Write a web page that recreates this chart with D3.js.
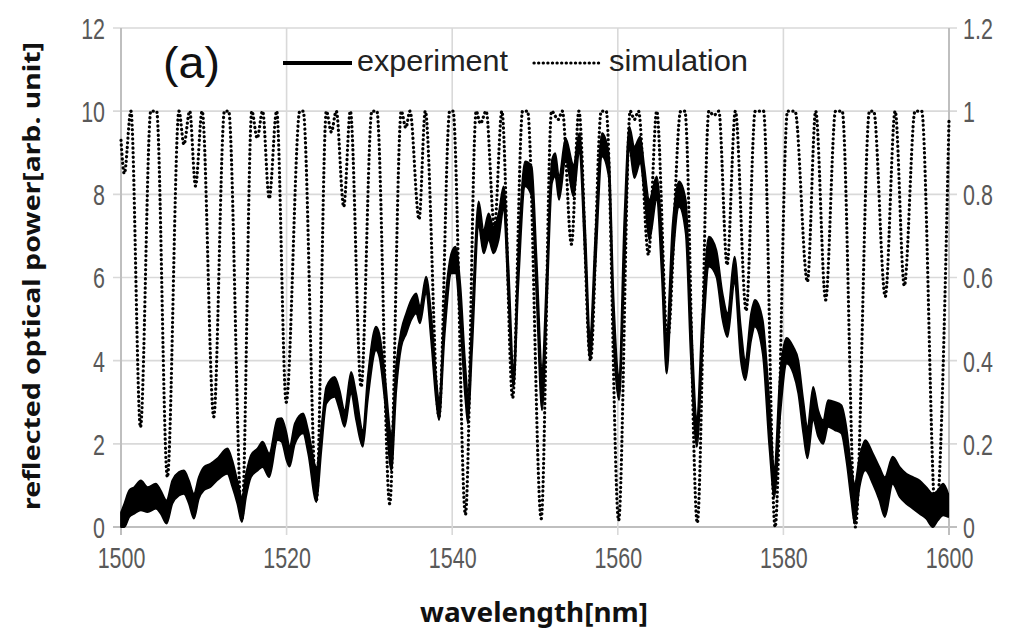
<!DOCTYPE html>
<html><head><meta charset="utf-8">
<script src="https://cdn.jsdelivr.net/npm/d3@7"></script>
<style>
html,body{margin:0;padding:0;background:#fff;}
svg{display:block;}
</style></head>
<body>
<svg id="chart" width="1024" height="635"></svg>
<script>
// ---- data ----
const xTicks = [1500, 1520, 1540, 1560, 1580, 1600];
const yLeftTicks = [0, 2, 4, 6, 8, 10, 12];
const yRightTicks = [0, 0.2, 0.4, 0.6, 0.8, 1, 1.2];
const yRightLabels = ["0", "0.2", "0.4", "0.6", "0.8", "1", "1.2"];
const seriesNames = ["experiment", "simulation"];

// experiment: noisy band, read as upper / lower envelope (left axis)
const expWl = [1500.0,1500.4,1501.0,1501.6,1502.4,1503.2,1504.2,1504.8,1505.5,1506.2,1507.0,1507.6,1508.2,1508.8,1509.4,1510.0,1510.8,1511.6,1512.85,1513.45,1514.05,1514.6,1515.1,1515.7,1516.5,1517.1,1517.9,1518.9,1519.4,1520.0,1520.35,1521.0,1522.0,1522.6,1523.6,1524.2,1524.8,1525.8,1526.4,1527.0,1527.8,1528.4,1529.2,1529.8,1530.8,1531.2,1531.85,1532.65,1533.25,1533.85,1534.45,1535.05,1535.65,1536.1,1536.85,1537.45,1538.05,1538.4,1539.1,1539.9,1540.4,1541.0,1541.6,1541.9,1542.4,1543.2,1543.8,1544.4,1545.0,1545.6,1546.2,1546.8,1547.4,1548.0,1548.8,1549.6,1550.2,1550.85,1551.45,1552.05,1552.45,1552.9,1553.7,1554.65,1555.35,1556.05,1556.65,1557.3,1558.1,1558.9,1559.5,1560.15,1560.8,1561.4,1562.0,1562.7,1563.2,1563.8,1564.7,1565.3,1565.9,1566.6,1567.4,1568.2,1568.8,1569.55,1570.2,1571.0,1571.9,1572.65,1573.25,1574.1,1574.85,1575.4,1576.1,1576.55,1577.5,1578.3,1578.9,1579.6,1580.4,1581.2,1581.8,1582.4,1582.9,1583.6,1584.2,1584.8,1585.4,1586.2,1587.0,1587.6,1588.2,1588.6,1589.2,1589.9,1590.8,1591.6,1592.25,1593.2,1594.05,1594.85,1595.65,1596.45,1597.25,1598.05,1598.65,1599.3,1599.9];
const expUpper = [0.35,0.56,0.88,0.96,1.12,0.96,1.04,0.88,0.64,1.12,1.32,1.36,1.12,0.80,1.20,1.44,1.52,1.64,1.89,1.60,1.12,0.72,1.28,1.73,1.89,2.05,1.77,2.60,2.62,2.25,1.93,2.49,2.73,2.33,1.44,2.41,3.37,3.61,3.29,2.81,3.73,3.21,2.33,3.61,4.82,4.65,3.69,2.25,3.93,4.74,5.14,5.46,5.62,5.30,6.02,5.14,3.61,3.05,5.30,6.58,6.74,5.78,3.85,3.21,5.06,7.83,7.14,7.54,7.22,7.54,8.19,6.26,3.85,6.66,8.79,8.67,6.42,3.85,6.26,8.83,8.99,8.43,9.35,8.71,9.47,7.22,4.65,7.06,9.47,8.99,5.46,3.65,7.46,9.63,9.15,9.39,8.67,7.87,8.43,7.06,4.65,7.22,8.31,7.87,5.30,2.65,5.06,6.98,6.66,5.62,5.14,6.50,4.82,4.01,5.14,5.46,4.98,3.05,1.44,3.69,4.55,4.33,4.01,3.05,2.41,3.37,2.81,2.57,3.05,3.01,2.93,2.41,1.44,1.04,1.69,2.09,1.77,1.44,1.20,1.69,1.44,1.28,1.20,1.12,0.96,0.80,0.88,1.04,0.80];
const expLower = [0.00,0.00,0.24,0.32,0.40,0.36,0.44,0.32,0.08,0.56,0.76,0.80,0.56,0.20,0.68,0.88,0.96,1.12,1.28,0.96,0.56,0.12,0.72,1.20,1.36,1.44,1.20,2.09,2.05,1.60,1.45,2.00,2.25,1.77,0.60,1.85,2.97,3.13,2.81,2.41,3.21,2.57,1.93,3.05,4.25,4.09,3.05,1.36,3.29,4.33,4.65,4.98,5.14,4.90,5.62,4.49,3.05,2.57,4.65,6.10,6.10,4.82,3.05,2.49,4.25,7.22,6.58,6.90,6.58,6.90,7.62,5.46,3.37,5.86,8.19,7.95,5.46,2.81,5.46,8.27,8.43,7.87,8.83,7.95,8.99,6.42,4.01,6.26,8.91,8.43,4.49,3.05,6.26,9.07,8.39,8.75,8.03,6.90,7.87,6.10,3.69,6.26,7.70,7.06,4.17,1.93,4.17,6.26,6.02,4.98,4.57,5.86,4.01,3.53,4.49,4.82,4.17,1.93,0.72,2.65,3.93,3.69,3.21,2.25,1.65,2.57,2.17,2.00,2.41,2.33,2.25,1.60,0.64,0.08,0.96,1.36,1.04,0.64,0.24,1.04,0.72,0.56,0.44,0.32,0.20,0.00,0.16,0.28,0.24];

// simulation (right axis)
const simWl = [1500.0,1500.4,1501.2,1502.35,1503.6,1504.3,1505.6,1507.0,1507.6,1508.3,1509.0,1509.8,1511.2,1512.5,1513.0,1514.6,1515.8,1516.45,1517.1,1517.9,1518.8,1519.95,1521.6,1522.0,1523.6,1524.8,1525.4,1526.0,1526.9,1527.7,1529.0,1530.3,1530.9,1532.45,1533.85,1534.4,1534.9,1536.0,1536.75,1538.4,1539.7,1540.1,1541.6,1542.9,1543.4,1544.1,1545.1,1546.0,1547.3,1548.5,1549.1,1550.75,1552.0,1552.8,1553.3,1554.4,1555.3,1556.7,1558.0,1558.6,1560.1,1561.5,1562.0,1562.5,1563.7,1564.7,1566.0,1567.6,1568.1,1569.6,1571.0,1571.6,1572.2,1573.2,1574.2,1575.5,1576.6,1577.6,1579.0,1580.5,1581.4,1582.9,1583.9,1585.1,1586.3,1587.1,1588.7,1590.4,1590.9,1592.3,1593.5,1594.6,1595.9,1596.7,1598.4,1600.0];
const simVal = [0.93,0.85,1.0,0.24,1.0,1.0,0.12,1.0,0.92,1.0,0.82,1.0,0.265,1.0,1.0,0.016,1.0,0.935,1.0,0.79,1.0,0.30,1.0,1.0,0.064,1.0,0.95,1.0,0.77,1.0,0.337,1.0,1.0,0.056,1.0,0.96,1.0,0.74,1.0,0.265,1.0,1.0,0.03,1.0,0.97,1.0,0.72,1.0,0.31,1.0,1.0,0.02,1.0,0.98,1.0,0.68,1.0,0.40,1.0,1.0,0.016,1.0,0.98,1.0,0.655,1.0,0.45,1.0,1.0,0.01,1.0,0.99,1.0,0.63,1.0,0.52,1.0,1.0,0.0,1.0,1.0,0.59,1.0,0.546,1.0,1.0,0.0,1.0,1.0,0.554,1.0,0.58,1.0,1.0,0.02,0.98];

// ---- drawing ----
const svg = d3.select("#chart");
svg.append("rect").attr("width",1024).attr("height",635).attr("fill","#fff");

const x = d3.scaleLinear().domain([1500,1600]).range([121,949]);
const yL = d3.scaleLinear().domain([0,12]).range([527,28]);
const yR = d3.scaleLinear().domain([0,1.2]).range([527,28]);

const gridCol = "#d9d9d9", axisCol = "#bfbfbf", labCol = "#595959";
const tickFont = "'Liberation Sans','DejaVu Sans',sans-serif";

// horizontal gridlines (with outside tick stubs)
svg.append("g").selectAll("line").data(yLeftTicks).join("line")
  .attr("x1",113).attr("x2",957)
  .attr("y1",d=>yL(d)).attr("y2",d=>yL(d))
  .attr("stroke",d=>d===0?axisCol:gridCol).attr("stroke-width",d=>d===0?2:1.6);
// vertical gridlines
svg.append("g").selectAll("line").data(xTicks).join("line")
  .attr("x1",d=>x(d)).attr("x2",d=>x(d))
  .attr("y1",yL(12)).attr("y2",535)
  .attr("stroke",d=>(d===1600||d===1500)?axisCol:gridCol)
  .attr("stroke-width",d=>(d===1600||d===1500)?2:1.6);

// axes (labels via d3 axes, lines hidden)
const axL = svg.append("g").attr("transform","translate(105,0)")
  .call(d3.axisLeft(yL).tickValues(yLeftTicks).tickSize(0).tickPadding(0).tickFormat(d3.format("d")));
const axR = svg.append("g").attr("transform","translate(963,0)")
  .call(d3.axisRight(yR).tickValues(yRightTicks).tickSize(0).tickPadding(0).tickFormat((d,i)=>yRightLabels[i]));
const axB = svg.append("g").attr("transform","translate(0,545)")
  .call(d3.axisBottom(x).tickValues(xTicks).tickSize(0).tickPadding(0).tickFormat(d3.format("d")));
[axL,axR,axB].forEach(a=>{
  a.select(".domain").remove();
  a.selectAll("text").attr("x",0).attr("fill",labCol).style("font-family",tickFont).style("font-size","29px")
   .attr("transform","scale(0.74,1)");
});
axL.selectAll("text").attr("dy","0.36em");
axR.selectAll("text").attr("dy","0.36em");
axB.selectAll("text").attr("dy","0.78em");

// simulation (dotted)
const simData = simWl.map((w,i)=>({w, v: simVal[i]}));
svg.append("path").datum(simData)
  .attr("d", d3.line().x(d=>x(d.w)).y(d=>yR(d.v)).curve(d3.curveMonotoneX))
  .attr("fill","none").attr("stroke","#000").attr("stroke-width",3.2)
  .attr("stroke-linecap","round").attr("stroke-dasharray","0.2 4.4");

// experiment (thick noisy band)
const expData = expWl.map((w,i)=>({w, hi: expUpper[i], lo: expLower[i]}));
svg.append("path").datum(expData)
  .attr("d", d3.area().x(d=>x(d.w)).y0(d=>yL(d.lo)).y1(d=>yL(d.hi)).curve(d3.curveMonotoneX))
  .attr("fill","#000").attr("stroke","#000").attr("stroke-width",1.8).attr("stroke-linejoin","round");

// legend
const legFont = "'Liberation Sans','DejaVu Sans',sans-serif";
svg.append("text").attr("x",163).attr("y",78).text("(a)")
  .attr("fill","#111").style("font-family",legFont).style("font-size","44px").style("font-weight","300")
  .attr("textLength",57).attr("lengthAdjust","spacingAndGlyphs");
svg.append("line").attr("x1",283).attr("x2",352).attr("y1",63).attr("y2",63)
  .attr("stroke","#000").attr("stroke-width",4);
svg.append("text").attr("x",357).attr("y",71).text(seriesNames[0])
  .attr("fill","#222").style("font-family",legFont).style("font-size","30px")
  .attr("textLength",151).attr("lengthAdjust","spacingAndGlyphs");
svg.append("line").attr("x1",534).attr("x2",600).attr("y1",63).attr("y2",63)
  .attr("stroke","#000").attr("stroke-width",3.2).attr("stroke-linecap","round").attr("stroke-dasharray","0.2 4.4");
svg.append("text").attr("x",609).attr("y",71).text(seriesNames[1])
  .attr("fill","#222").style("font-family",legFont).style("font-size","30px")
  .attr("textLength",139).attr("lengthAdjust","spacingAndGlyphs");

// axis titles
svg.append("text").attr("x",534).attr("y",622).attr("text-anchor","middle")
  .text("wavelength[nm]").attr("fill","#111")
  .style("font-family","'Noto Sans','DejaVu Sans',sans-serif").style("font-weight","bold").style("font-size","26px")
  .attr("textLength",228).attr("lengthAdjust","spacingAndGlyphs");
svg.append("text").attr("transform","translate(40,276) rotate(-90)").attr("text-anchor","middle")
  .text("reflected optical power[arb. unit]").attr("fill","#111")
  .style("font-family","'Noto Sans','DejaVu Sans',sans-serif").style("font-weight","bold").style("font-size","23px")
  .attr("textLength",468).attr("lengthAdjust","spacingAndGlyphs");
</script>
</body></html>
